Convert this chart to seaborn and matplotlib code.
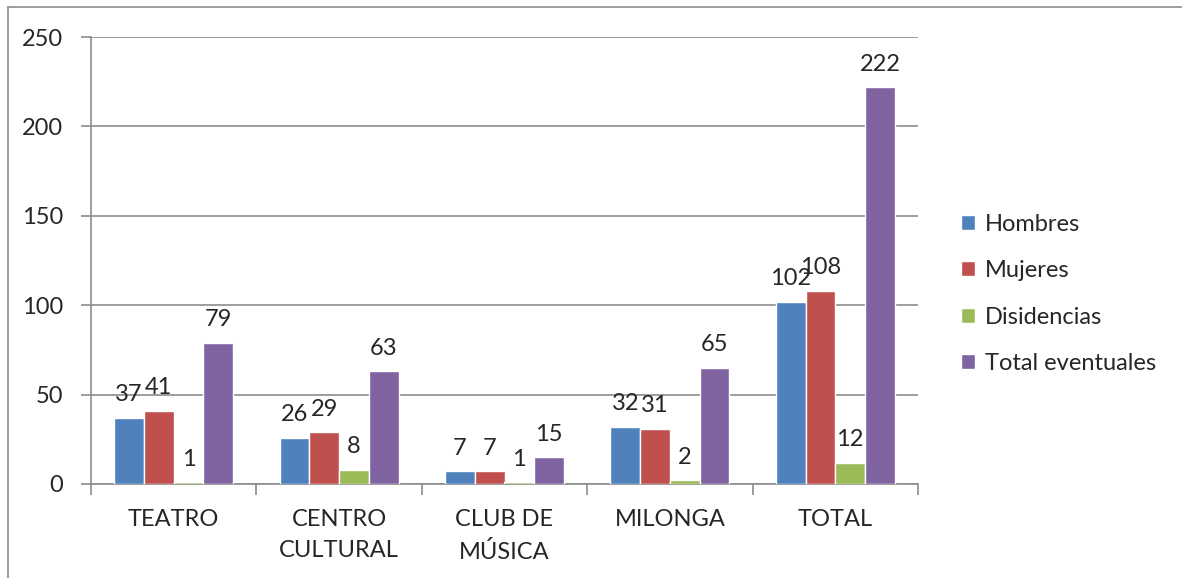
import matplotlib
matplotlib.use("Agg")
import matplotlib.pyplot as plt
from matplotlib.lines import Line2D
import seaborn as sns
import pandas as pd

categorias = ["TEATRO", "CENTRO\nCULTURAL", "CLUB DE\nMÚSICA", "MILONGA", "TOTAL"]
series = ["Hombres", "Mujeres", "Disidencias", "Total eventuales"]
hombres = [37, 26, 7, 32, 102]
mujeres = [41, 29, 7, 31, 108]
disidencias = [1, 8, 1, 2, 12]
total_eventuales = [79, 63, 15, 65, 222]
colores = ["#4F81BD", "#C0504D", "#9BBB59", "#8064A2"]

valores = [hombres, mujeres, disidencias, total_eventuales]
filas = []
for s, vals in zip(series, valores):
    for c, v in zip(categorias, vals):
        filas.append({"categoria": c, "serie": s, "valor": v})
df = pd.DataFrame(filas)

sns.set_style("white")
plt.rcParams["font.family"] = ["Lato", "DejaVu Sans"]
fs = 17

fig = plt.figure(figsize=(11.82, 5.78), dpi=100)
ax = fig.add_axes([91 / 1182, 1 - 484 / 578, (918 - 91) / 1182, (484 - 37) / 578])

sns.barplot(data=df, x="categoria", y="valor", hue="serie", palette=colores,
            width=0.72, gap=0, saturation=1, ax=ax, legend=True)

for cont in ax.containers:
    for p in cont:
        p.set_zorder(4)
    ax.bar_label(cont, fontsize=fs, padding=9)

ax.set_ylim(0, 250)
ax.set_yticks([0, 50, 100, 150, 200, 250])
ax.set_xlim(-0.5, 4.5)
ax.yaxis.grid(True, color="#8c8c8c", linewidth=1.2)
ax.set_axisbelow(True)
ax.set_xlabel("")
ax.set_ylabel("")
for side in ["top", "right"]:
    ax.spines[side].set_visible(False)
for side in ["left", "bottom"]:
    ax.spines[side].set_color("#8c8c8c")
    ax.spines[side].set_linewidth(1.2)
    ax.spines[side].set_zorder(3)

ax.tick_params(axis="y", which="major", length=7, width=1.2, color="#8c8c8c",
               labelsize=fs, pad=13, left=True)
ax.tick_params(axis="x", which="major", length=0, labelsize=fs, pad=18)
ax.set_xticks([-0.5, 0.5, 1.5, 2.5, 3.5, 4.5], minor=True)
ax.tick_params(axis="x", which="minor", length=8, width=1.2, color="#8c8c8c", bottom=True)
for lbl in ax.get_xticklabels():
    lbl.set_linespacing(1.6)
    lbl.set_verticalalignment("top")

handles, labels = ax.get_legend_handles_labels()
ax.legend(handles, labels, loc="center left", bbox_to_anchor=(940 / 1182, 1 - 294 / 578),
          bbox_transform=fig.transFigure, frameon=False, fontsize=fs,
          handlelength=0.6, handleheight=0.6, handletextpad=0.4, labelspacing=1.08)

# marco del gráfico
fig.add_artist(Line2D([8 / 1182, 8 / 1182], [0, 1 - 7 / 578], color="#8c8c8c", linewidth=1.2))
fig.add_artist(Line2D([8 / 1182, 1], [1 - 7 / 578, 1 - 7 / 578], color="#8c8c8c", linewidth=1.2))

fig.savefig("out.png", dpi=100)
